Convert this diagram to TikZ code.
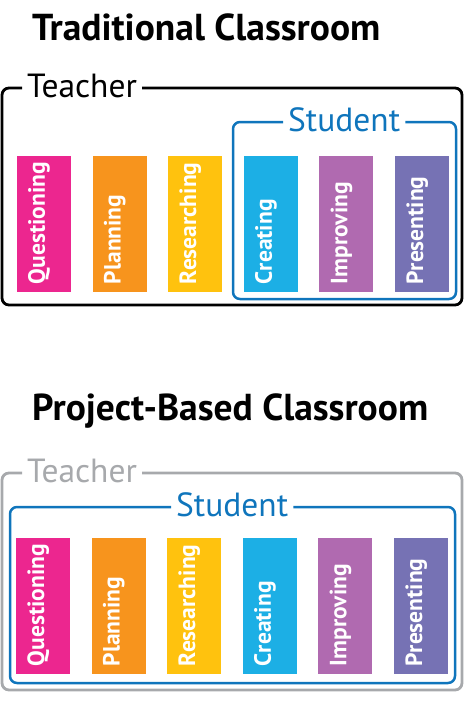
\documentclass[tikz,border=0pt]{standalone}
\usepackage{fontspec}
\setmainfont{PT Sans}
\definecolor{qpink}{HTML}{EC268F}
\definecolor{porange}{HTML}{F7941D}
\definecolor{ryellow}{HTML}{FFC20E}
\definecolor{ccyan}{HTML}{1CAFE5}
\definecolor{ipurple}{HTML}{B06AB0}
\definecolor{pviolet}{HTML}{7672B4}
\definecolor{studblue}{HTML}{0F75BC}
\definecolor{teachgray}{HTML}{A7A9AC}
\tikzset{
  stage/.style={minimum width=54pt, minimum height=136pt, inner sep=0pt},
  stagetext/.style={rotate=90, anchor=base west, inner sep=0pt, text=white, font=\fontsize{23.5}{23.5}\selectfont\bfseries},
  title/.style={anchor=base west, inner sep=0pt, font=\fontsize{37.5}{37.5}\selectfont\bfseries},
  framelabel/.style={anchor=west, inner xsep=5pt, inner ysep=0pt, text depth=4pt, font=\fontsize{33.5}{33.5}\selectfont},
  boxline/.style={line width=2.8pt, rounded corners=7pt}
}
\begin{document}
\begin{tikzpicture}[x=1pt,y=-1pt]
\useasboundingbox (0,0) rectangle (464,710);
% traditional classroom
\node[title] (trad) at (32,40) {Traditional Classroom};
\node[framelabel] (teach1) at (22,88) {Teacher};
\draw[boxline] (teach1.west) -| (2,305) -- (462,305) |- (teach1.east);
\node[framelabel, text=studblue] (stud1) at (283,122) {Student};
\draw[boxline, draw=studblue, line width=2.5pt] (stud1.west) -| (233,299) -- (456,299) |- (stud1.east);
\foreach \i/\word/\col in {1/Questioning/qpink, 2/Planning/porange, 3/Researching/ryellow,
  4/Creating/ccyan, 5/Improving/ipurple, 6/Presenting/pviolet}
{
  \node[stage, fill=\col] (t\i) at ({44+75.6*(\i-1)},224) {};
  \node[stagetext] (tl\i) at ([shift={(1,-8)}]t\i.south) {\word};
}
% project-based classroom
\node[title] (proj) at (32,420) {Project-Based Classroom};
\node[framelabel, text=teachgray] (teach2) at (22,473) {Teacher};
\draw[boxline, draw=teachgray] (teach2.west) -| (2,690) -- (462,690) |- (teach2.east);
\node[framelabel, text=studblue] (stud2) at (171,507) {Student};
\draw[boxline, draw=studblue, line width=2.5pt] (stud2.west) -| (10,683) -- (455,683) |- (stud2.east);
\foreach \i/\word/\col in {1/Questioning/qpink, 2/Planning/porange, 3/Researching/ryellow,
  4/Creating/ccyan, 5/Improving/ipurple, 6/Presenting/pviolet}
{
  \node[stage, fill=\col] (p\i) at ({43+75.6*(\i-1)},606) {};
  \node[stagetext] (pl\i) at ([shift={(1,-8)}]p\i.south) {\word};
}
\end{tikzpicture}
\end{document}
